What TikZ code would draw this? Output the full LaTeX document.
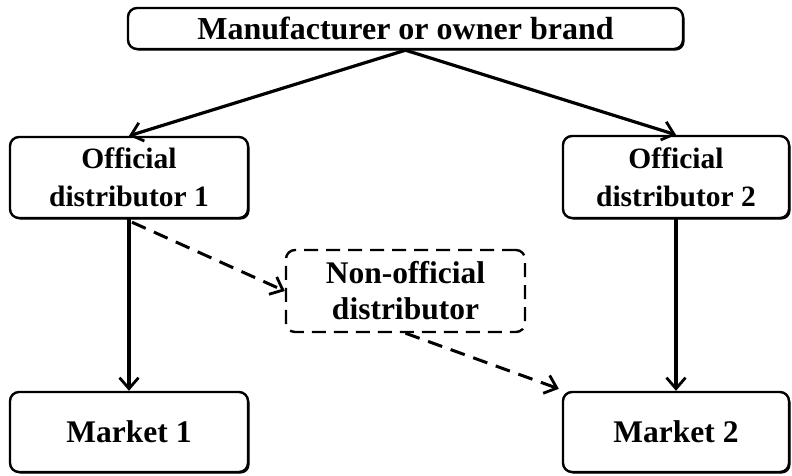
\documentclass[tikz,border=0pt]{standalone}
\usepackage{fontspec}
\setmainfont{Liberation Serif}
\usetikzlibrary{arrows.meta,shadows}
\begin{document}
\begin{tikzpicture}[x=1pt,y=-1pt,
  boxbase/.style={draw=black,line width=2.4pt,rounded corners=9pt,fill=white,inner sep=0pt,align=center,font=\bfseries},
  shdw/.style={drop shadow={shadow xshift=1.6pt,shadow yshift=-1.6pt,fill=black,opacity=1}},
  solidbox/.style={boxbase,shdw},
  dashbox/.style={boxbase,dash pattern=on 14pt off 8pt},
  arr/.style={line width=3.2pt,-{Straight Barb[length=11pt,width=19pt,line width=2.8pt]}},
  darr/.style={arr,line width=3pt,dash pattern=on 15pt off 9pt}]
\useasboundingbox (0,0) rectangle (792,475);
\node[solidbox,minimum width=555pt,minimum height=41pt,font=\bfseries\fontsize{32}{36}\selectfont] (top) at (405.5,28.5) {Manufacturer or owner brand};
\node[solidbox,minimum width=238pt,minimum height=81pt,font=\bfseries\fontsize{29.5}{38}\selectfont] (off1) at (129,177.5) {Official\\distributor 1};
\node[solidbox,minimum width=226pt,minimum height=82pt,font=\bfseries\fontsize{29.5}{38}\selectfont] (off2) at (676,177) {Official\\distributor 2};
\node[dashbox,minimum width=239pt,minimum height=82pt,font=\bfseries\fontsize{31.5}{36}\selectfont] (non) at (405.5,291) {Non-official\\distributor};
\node[solidbox,minimum width=238pt,minimum height=80pt,font=\bfseries\fontsize{31.5}{36}\selectfont] (m1) at (129,432) {Market 1};
\node[solidbox,minimum width=226pt,minimum height=80pt,font=\bfseries\fontsize{31.5}{36}\selectfont] (m2) at (676,432) {Market 2};
\draw[arr] (top.south) -- (off1.north);
\draw[arr] (top.south) -- (off2.north);
\draw[arr] (off1.south) -- (m1.north);
\draw[arr] (off2.south) -- (m2.north);
\draw[darr] ([xshift=3pt,yshift=-3pt]off1.south) -- (non.west);
\draw[darr] (non.south) -- ([xshift=-3pt,yshift=2pt]m2.north west);
\end{tikzpicture}
\end{document}
